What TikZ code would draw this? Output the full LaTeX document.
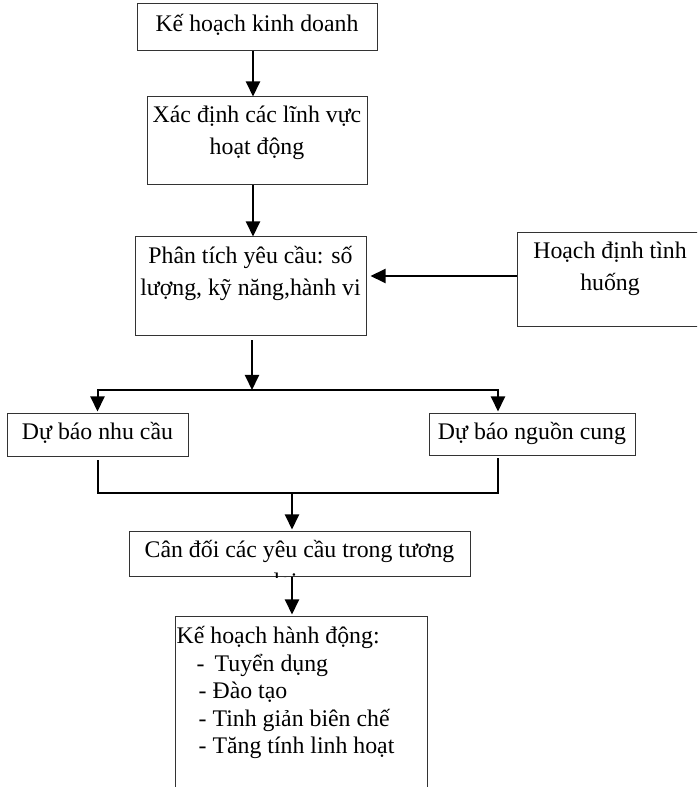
\documentclass[tikz,border=0pt]{standalone}
\usepackage{fontspec}
\setmainfont{Liberation Serif}
\usetikzlibrary{arrows.meta,positioning}
\definecolor{boxline}{HTML}{333333}
\definecolor{flow}{HTML}{000000}

\begin{document}
\begin{tikzpicture}[x=1pt,y=1pt,
    box/.style={rectangle,draw=boxline,line width=1pt,inner sep=0pt},
    txt/.style={inner sep=0pt,anchor=north,align=center,font=\fontsize{23.8}{32}\selectfont},
    link/.style={line width=2pt,color=flow},
    arr/.style={link,-{Triangle[length=15pt,width=14pt]}}
  ]
  \useasboundingbox (0,0) rectangle (697,787);
  \clip (0,0) rectangle (697,787);
  % boxes
  \node[box,minimum width=240,minimum height=47] (plan) at (257,759.5) {};
  \node[box,minimum width=220,minimum height=88] (areas) at (257,646) {};
  \node[box,minimum width=231,minimum height=99] (analysis) at (250.5,500.5) {};
  \node[box,minimum width=186,minimum height=94] (scenario) at (610,507) {};
  \node[box,minimum width=181,minimum height=43] (demand) at (97.5,351.5) {};
  \node[box,minimum width=206,minimum height=42] (supply) at (532,352) {};
  \node[box,minimum width=341,minimum height=45] (balance) at (299.5,232.5) {};
  \node[box,minimum width=252,minimum height=190] (action) at (301,75) {};
  % texts
  \node[txt,below=5.6pt of plan.north] (plan-text) {\strut Kế hoạch kinh doanh};
  \node[txt,below=3.6pt of areas.north] (areas-text) {\strut Xác định các lĩnh vực\\hoạt động};
  \node[txt,below=4.1pt of analysis.north] (analysis-text) {\strut Phân tích yêu cầu: số\\lượng, kỹ năng,hành vi};
  \node[txt,below=3.6pt of scenario.north] (scenario-text) {\strut Hoạch định tình\\huống};
  \node[txt,below=3.6pt of demand.north] (demand-text) {\strut Dự báo nhu cầu};
  \node[txt,below=3.6pt of supply.north] (supply-text) {\strut Dự báo nguồn cung};
  \begin{scope}
    \clip (balance.south west) rectangle (balance.north east);
    \node[txt,below=3pt of balance.north] (balance-text) {\strut Cân đối các yêu cầu trong tương\\lai\hspace*{28pt}};
  \end{scope}
  \node[txt,align=left,font=\fontsize{23.8}{27.5}\selectfont,anchor=north west,below right=7.75pt and 2pt of action.north west] (action-text)
    {\strut Kế hoạch hành động:\\
     \hspace*{20pt}-\hspace*{10pt}Tuyển dụng\\
     \hspace*{22pt}-\hspace*{6pt}Đào tạo\\
     \hspace*{22pt}-\hspace*{6pt}Tinh giản biên chế\\
     \hspace*{22pt}-\hspace*{6pt}Tăng tính linh hoạt};
  % connectors
  \coordinate (split) at (252,397);
  \coordinate (join) at (292,294);
  \draw[arr] ([xshift=-4pt]plan.south) -- ([xshift=-4pt]areas.north);
  \draw[arr] ([xshift=-4pt]areas.south) -- ([xshift=2.5pt]analysis.north);
  \draw[arr,shorten >=4pt] ([yshift=4pt]scenario.west) -- ([yshift=4pt]scenario.west -| analysis.east);
  \draw[arr,shorten <=4pt] ([xshift=1.5pt]analysis.south) -- (split);
  \draw[arr,shorten >=2pt] (split) -| (demand.north);
  \draw[arr,shorten >=2pt] (split) -| ([xshift=-34pt]supply.north);
  \draw[link,shorten <=3pt] (demand.south) |- (join);
  \draw[link,shorten <=2pt] ([xshift=-34pt]supply.south) |- (join);
  \draw[arr,shorten >=2pt] (join) -- (join |- balance.north);
  \draw[arr,shorten >=2pt] (balance.south -| join) -- (action.north -| join);
\end{tikzpicture}
\end{document}
